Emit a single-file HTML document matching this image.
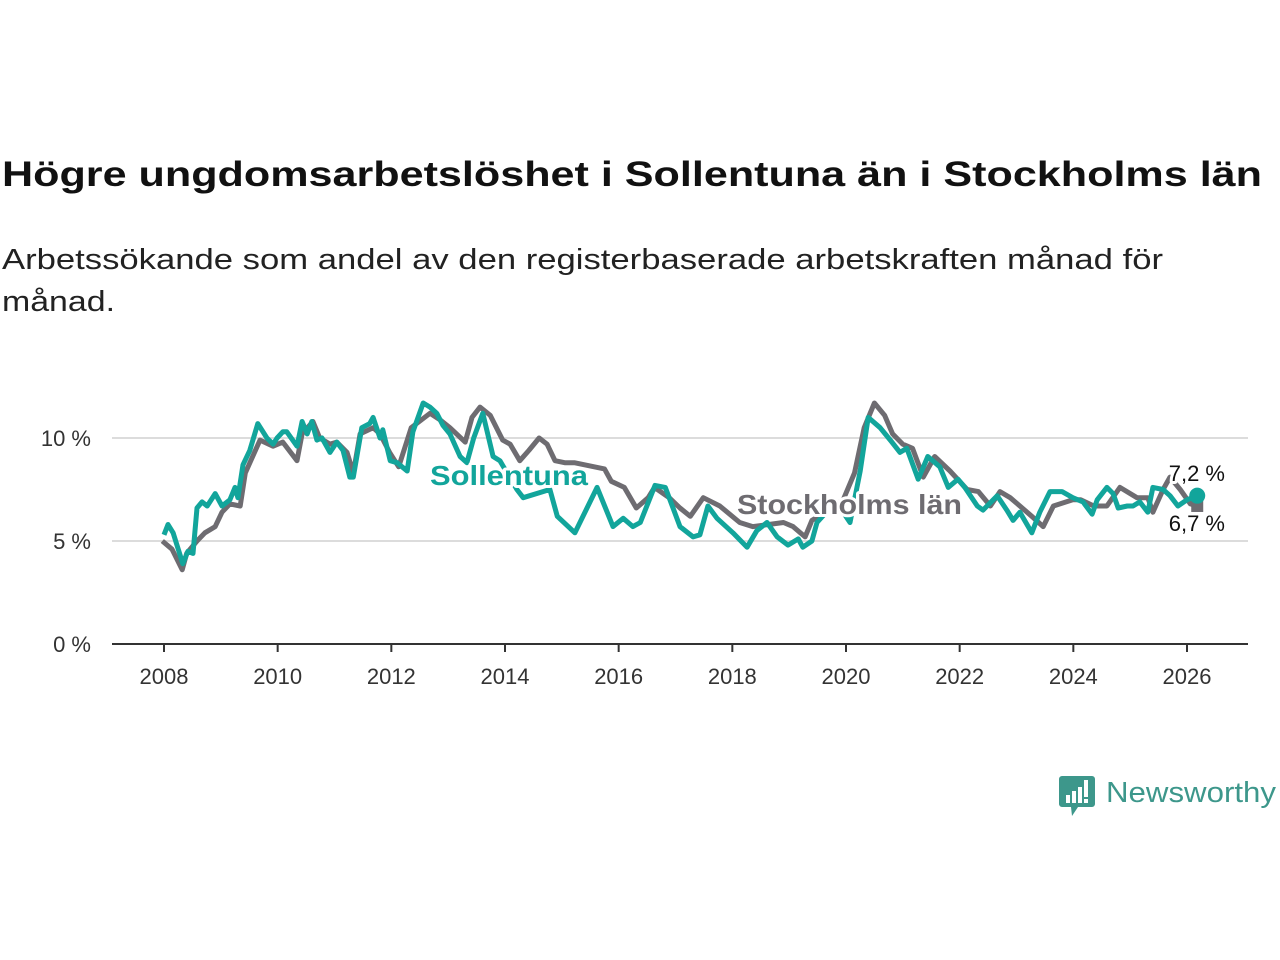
<!DOCTYPE html>
<html><head><meta charset="utf-8">
<style>
html,body{margin:0;padding:0;background:#fff;}
svg{display:block;}
text{font-family:"Liberation Sans",sans-serif;}
</style></head>
<body>
<svg id="chart" width="1280" height="960" viewBox="0 0 1280 960">
  <text x="2" y="186" font-size="35" font-weight="bold" fill="#111" textLength="1260" lengthAdjust="spacingAndGlyphs">Högre ungdomsarbetslöshet i Sollentuna än i Stockholms län</text>
  <text x="2" y="269" font-size="29" fill="#222" textLength="1161" lengthAdjust="spacingAndGlyphs">Arbetssökande som andel av den registerbaserade arbetskraften månad för</text>
  <text x="2" y="311" font-size="29" fill="#222" textLength="113" lengthAdjust="spacingAndGlyphs">månad.</text>
  <g id="grid"></g>
  <g id="axes"></g>
  <g id="series"></g>
  <g id="labels"></g>
  <g>
    <path d="M1062 776 h30 a3 3 0 0 1 3 3 v25 a3 3 0 0 1 -3 3 h-14 l-6 9 l-1 -9 h-9 a3 3 0 0 1 -3 -3 v-25 a3 3 0 0 1 3 -3z" fill="#3d978b"/>
    <rect x="1066" y="795" width="4" height="8" fill="#fff"/>
    <rect x="1072" y="791" width="4" height="12" fill="#fff"/>
    <rect x="1078" y="787" width="4" height="16" fill="#fff"/>
    <rect x="1084" y="780" width="4" height="17" fill="#fff"/>
    <rect x="1084" y="799" width="4" height="4" fill="#fff"/>
    <text x="1106" y="802" font-size="29" fill="#3d978b" textLength="170" lengthAdjust="spacingAndGlyphs">Newsworthy</text>
  </g>
</svg>
<script>
const yTicks = [0, 5, 10];
const yTickLabels = ["0 %", "5 %", "10 %"];
const xTicks = [2008, 2010, 2012, 2014, 2016, 2018, 2020, 2022, 2024, 2026];
const sollYears = [2008.0,2008.07,2008.16,2008.33,2008.42,2008.51,2008.58,2008.67,2008.76,2008.90,2009.02,2009.16,2009.25,2009.30,2009.39,2009.51,2009.65,2009.81,2009.92,2009.99,2010.09,2010.16,2010.34,2010.43,2010.52,2010.60,2010.69,2010.78,2010.92,2011.04,2011.15,2011.27,2011.33,2011.48,2011.62,2011.68,2011.80,2011.85,2011.98,2012.10,2012.28,2012.38,2012.56,2012.68,2012.80,2012.91,2013.03,2013.21,2013.33,2013.45,2013.61,2013.79,2013.91,2014.21,2014.32,2014.79,2014.92,2015.23,2015.62,2015.90,2016.08,2016.25,2016.38,2016.64,2016.82,2017.08,2017.31,2017.43,2017.57,2017.73,2018.01,2018.26,2018.43,2018.61,2018.79,2018.98,2019.16,2019.24,2019.40,2019.49,2019.72,2019.90,2020.07,2020.25,2020.39,2020.60,2020.78,2020.95,2021.07,2021.27,2021.44,2021.65,2021.80,2021.97,2022.09,2022.31,2022.41,2022.66,2022.83,2022.94,2023.06,2023.27,2023.41,2023.59,2023.80,2023.99,2024.17,2024.33,2024.42,2024.59,2024.70,2024.79,2024.95,2025.05,2025.17,2025.31,2025.40,2025.58,2025.70,2025.84,2026.00,2026.18];
const sollValues = [5.3,5.8,5.4,3.9,4.5,4.4,6.6,6.9,6.7,7.3,6.7,7.0,7.6,7.1,8.7,9.4,10.7,10.0,9.7,10.0,10.3,10.3,9.6,10.8,10.2,10.8,9.9,10.0,9.3,9.8,9.4,8.1,8.1,10.5,10.7,11.0,10.0,10.4,8.9,8.8,8.4,10.3,11.7,11.5,11.2,10.6,10.2,9.1,8.8,10.0,11.2,9.1,8.9,7.5,7.1,7.5,6.2,5.4,7.6,5.7,6.1,5.7,5.9,7.7,7.6,5.7,5.2,5.3,6.7,6.1,5.4,4.7,5.5,5.9,5.2,4.8,5.1,4.7,5.0,5.9,6.6,6.6,5.9,8.4,11.0,10.5,9.9,9.3,9.5,8.0,9.1,8.6,7.6,8.0,7.6,6.7,6.5,7.2,6.5,6.0,6.4,5.4,6.4,7.4,7.4,7.1,6.9,6.3,7.0,7.6,7.3,6.6,6.7,6.7,6.9,6.4,7.6,7.5,7.2,6.7,7.0,7.2];
const sthlmYears = [2007.97,2008.14,2008.32,2008.40,2008.58,2008.72,2008.90,2009.02,2009.16,2009.34,2009.43,2009.69,2009.92,2010.09,2010.34,2010.43,2010.62,2010.74,2010.92,2011.04,2011.22,2011.33,2011.45,2011.68,2011.80,2011.97,2012.13,2012.35,2012.68,2012.85,2013.03,2013.30,2013.42,2013.56,2013.74,2013.96,2014.09,2014.26,2014.42,2014.60,2014.74,2014.88,2015.05,2015.22,2015.75,2015.87,2016.10,2016.31,2016.52,2016.63,2016.89,2017.08,2017.26,2017.49,2017.78,2018.13,2018.36,2018.90,2019.07,2019.28,2019.40,2019.70,2019.95,2020.15,2020.32,2020.50,2020.68,2020.82,2021.00,2021.17,2021.36,2021.56,2021.83,2022.13,2022.33,2022.54,2022.71,2022.89,2023.06,2023.27,2023.47,2023.65,2023.99,2024.13,2024.36,2024.59,2024.82,2025.12,2025.31,2025.40,2025.58,2025.70,2025.88,2026.06,2026.18];
const sthlmValues = [5.0,4.6,3.6,4.4,5.0,5.4,5.7,6.4,6.8,6.7,8.3,9.9,9.6,9.8,8.9,10.2,10.8,10.0,9.7,9.8,9.3,8.3,10.2,10.5,10.2,9.3,8.6,10.5,11.2,10.9,10.5,9.8,11.0,11.5,11.1,9.9,9.7,8.9,9.4,10.0,9.7,8.9,8.8,8.8,8.5,7.9,7.6,6.6,7.1,7.6,7.1,6.6,6.2,7.1,6.7,5.9,5.7,5.9,5.7,5.2,6.0,6.5,7.0,8.3,10.5,11.7,11.1,10.2,9.7,9.5,8.1,9.1,8.4,7.5,7.4,6.7,7.4,7.1,6.7,6.2,5.7,6.7,7.0,7.0,6.7,6.7,7.6,7.1,7.1,6.4,7.5,8.1,7.5,6.8,6.7];

const NS = "http://www.w3.org/2000/svg";
const X0 = 112, X1 = 1248, Y0 = 644;
function xScale(yr){ return 164 + (yr - 2008) * (1187 - 164) / 18; }
function yScale(v){ return Y0 - v * 20.6; }
function mk(tag, attrs, parent){ const e = document.createElementNS(NS, tag); for (const k in attrs) e.setAttribute(k, attrs[k]); parent.appendChild(e); return e; }

const grid = document.getElementById('grid');
const axes = document.getElementById('axes');
yTicks.forEach((t, i) => {
  if (t > 0) {
    const gl = mk('line', {x1: X0, x2: X1, y1: yScale(t), y2: yScale(t), stroke: '#dcdcdc', 'stroke-width': 2}, grid);
    
    
  }
  const tl = mk('text', {x: 91, y: yScale(t) + 8, 'font-size': 22, fill: '#333', 'text-anchor': 'end'}, axes);
  tl.textContent = yTickLabels[i];
  
  
});
const ax = mk('line', {x1: X0, x2: X1, y1: Y0, y2: Y0, stroke: '#333', 'stroke-width': 2}, axes);


xTicks.forEach(t => {
  const tk = mk('line', {x1: xScale(t), x2: xScale(t), y1: Y0, y2: Y0 + 8, stroke: '#333', 'stroke-width': 2}, axes);
  
  
  const tl = mk('text', {x: xScale(t), y: 684, 'font-size': 22, fill: '#333', 'text-anchor': 'middle'}, axes);
  tl.textContent = t;
  
  
});

const series = document.getElementById('series');
function path(xs, vs){ return xs.map((x, i) => (i ? 'L' : 'M') + xScale(x).toFixed(1) + ' ' + yScale(vs[i]).toFixed(1)).join(' '); }
const gp = mk('path', {d: path(sthlmYears, sthlmValues), fill: 'none', stroke: '#6e6c71', 'stroke-width': 5, 'stroke-linejoin': 'round'}, series);


const tp = mk('path', {d: path(sollYears, sollValues), fill: 'none', stroke: '#12a59b', 'stroke-width': 5, 'stroke-linejoin': 'round'}, series);


const gl = sthlmYears.length - 1, tl = sollYears.length - 1;
const gd = mk('rect', {x: xScale(sthlmYears[gl]) - 6, y: yScale(sthlmValues[gl]) - 6, width: 12, height: 12, fill: '#6e6c71'}, series);


const td = mk('circle', {cx: xScale(sollYears[tl]), cy: yScale(sollValues[tl]), r: 8, fill: '#12a59b'}, series);



const labels = document.getElementById('labels');
function lab(txt, x, y, fill, size, weight, anchor, len){
  const a = {x: x, y: y, 'font-size': size, 'font-weight': weight, fill: fill, 'text-anchor': anchor, stroke: '#fff', 'stroke-width': 6, 'paint-order': 'stroke', 'stroke-linejoin': 'round'};
  if (len) { a.textLength = len; a.lengthAdjust = 'spacingAndGlyphs'; }
  const t = mk('text', a, labels);
  t.textContent = txt;
  return t;
}
const l1 = lab('Sollentuna', 430, 485, '#12a59b', 28, 'bold', 'start', 158);


const l2 = lab('Stockholms län', 737, 514, '#6e6c71', 28, 'bold', 'start', 225);


const l3 = lab(String(sollValues[tl]).replace('.', ',') + ' %', 1225, 481, '#111', 22, 'normal', 'end');


const l4 = lab(String(sthlmValues[gl]).replace('.', ',') + ' %', 1225, 531, '#111', 22, 'normal', 'end');


</script>
</body></html>
